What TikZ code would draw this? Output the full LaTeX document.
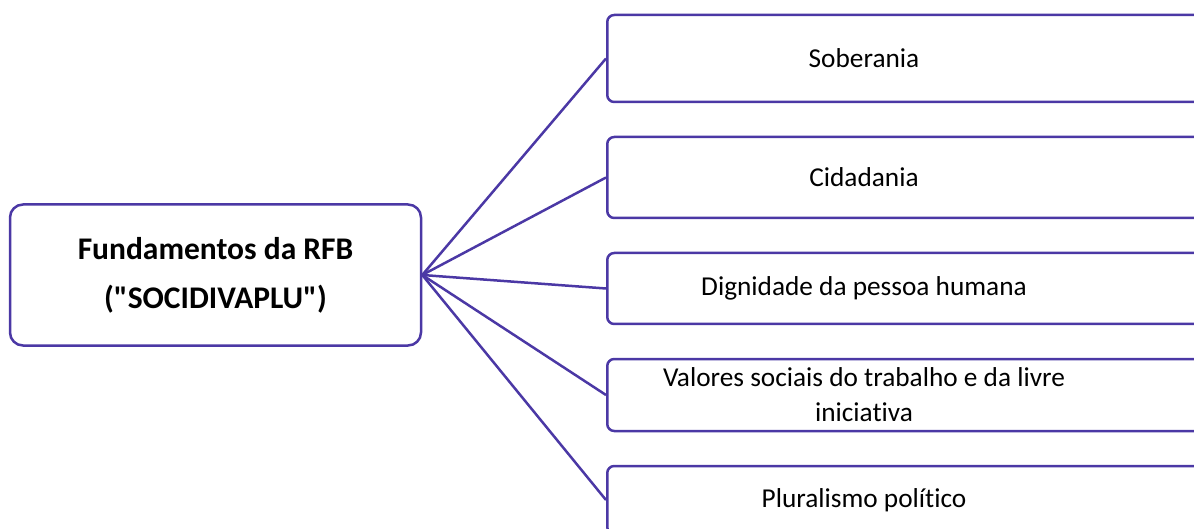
\documentclass[tikz,border=0pt]{standalone}
\usepackage{fontspec}
\setmainfont{Carlito}[Ligatures={TeXOff,NoCommon}]
\definecolor{smartpurple}{RGB}{75,56,165}
\begin{document}
\begin{tikzpicture}[x=1pt,y=-1pt,
ctrbox/.style={draw=smartpurple, line width=2.5pt, rounded corners=13pt, minimum width=411pt, minimum height=141pt, align=center, font=\fontsize{31.5}{49}\selectfont\bfseries},
itembox/.style={draw=smartpurple, line width=2.5pt, rounded corners=7pt, minimum width=650pt, anchor=west},
itemtxt/.style={align=center, font=\fontsize{27.3}{35}\selectfont},
link/.style={draw=smartpurple, line width=2.5pt}]
\useasboundingbox (0,0) rectangle (1194,529);
\node[ctrbox] (rfb) at (215.5,275) {Fundamentos da RFB\\("SOCIDIVAPLU")};
\foreach \n/\y/\h/\t in {a/58.5/87/Soberania, b/177.5/81/Cidadania, c/288.5/71/Dignidade da pessoa humana, d/395/72/{Valores sociais do trabalho e da livre\\iniciativa}, e/500/68/Pluralismo político}{
\node[itembox, minimum height=\h pt] (\n) at (606,\y) {};
\node[itemtxt] (\n txt) at (864,\y) {\t};
\draw[link] (rfb.east) -- (\n.west);
}
\end{tikzpicture}
\end{document}
